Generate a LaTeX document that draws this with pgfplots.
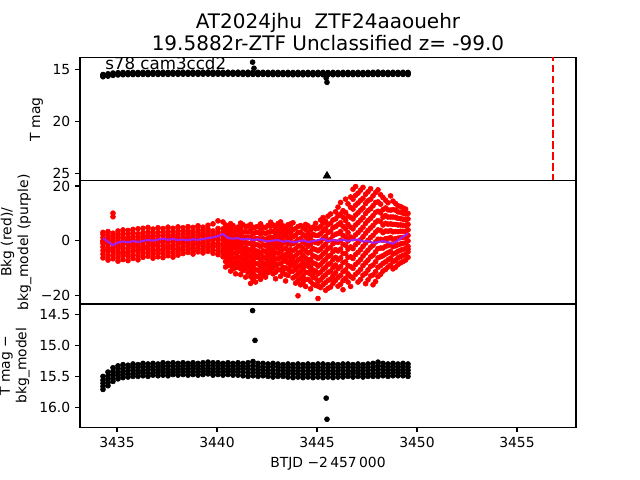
\documentclass[border=0pt]{standalone}
\usepackage{pgfplots}
\usepackage{pgfplotstable}
\pgfplotsset{compat=1.18}
\usepackage{fontspec}
\setmainfont{DejaVu Sans}

\pgfplotstableread{
t m1 m2 m3 m4 m5
3434.30 15.50 15.56 15.61 15.66 15.71
3434.55 15.43 15.49 15.54 15.60 15.65
3434.80 15.36 15.42 15.47 15.53 15.58
3435.05 15.33 15.38 15.44 15.49 15.54
3435.30 15.31 15.37 15.42 15.47 15.52
3435.55 15.32 15.36 15.41 15.46 15.51
3435.80 15.30 15.35 15.40 15.46 15.50
3436.05 15.31 15.36 15.41 15.45 15.50
3436.30 15.29 15.34 15.40 15.44 15.49
3436.55 15.30 15.35 15.39 15.45 15.50
3436.80 15.29 15.34 15.39 15.44 15.48
3437.05 15.30 15.35 15.40 15.44 15.49
3437.30 15.28 15.33 15.38 15.43 15.48
3437.55 15.29 15.34 15.39 15.44 15.49
3437.80 15.28 15.33 15.39 15.43 15.47
3438.05 15.29 15.34 15.38 15.43 15.48
3438.30 15.28 15.33 15.38 15.42 15.47
3438.55 15.29 15.33 15.38 15.43 15.48
3438.80 15.28 15.32 15.37 15.42 15.47
3439.05 15.29 15.34 15.38 15.43 15.48
3439.30 15.28 15.33 15.38 15.42 15.47
3439.55 15.27 15.32 15.37 15.42 15.46
3439.80 15.28 15.33 15.38 15.43 15.48
3440.05 15.28 15.32 15.37 15.42 15.47
3440.30 15.29 15.33 15.38 15.43 15.48
3440.55 15.28 15.33 15.38 15.42 15.47
3440.80 15.29 15.34 15.39 15.43 15.48
3441.05 15.28 15.33 15.38 15.43 15.48
3441.30 15.29 15.34 15.38 15.43 15.49
3441.55 15.28 15.33 15.38 15.44 15.50
3441.80 15.26 15.33 15.39 15.44 15.49
3442.05 15.29 15.34 15.39 15.44 15.50
3442.30 15.29 15.35 15.40 15.45 15.49
3442.55 15.30 15.35 15.40 15.45 15.50
3442.80 15.29 15.34 15.40 15.45 15.51
3443.05 15.30 15.35 15.40 15.46 15.50
3443.30 15.31 15.36 15.41 15.46 15.50
3443.55 15.30 15.35 15.40 15.45 15.51
3443.80 15.31 15.36 15.41 15.46 15.52
3444.05 15.30 15.36 15.41 15.46 15.51
3444.30 15.31 15.36 15.41 15.47 15.52
3444.55 15.30 15.35 15.41 15.46 15.51
3444.80 15.31 15.36 15.41 15.46 15.52
3445.05 15.30 15.35 15.40 15.46 15.51
3445.30 15.30 15.36 15.41 15.46 15.52
3445.55 15.31 15.36 15.41 15.46 15.51
3445.80 15.30 15.35 15.41 15.46 15.52
3446.05 15.31 15.36 15.41 15.46 15.51
3446.30 15.30 15.35 15.40 15.46 15.51
3446.55 15.30 15.35 15.41 15.46 15.50
3446.80 15.31 15.36 15.41 15.45 15.51
3447.05 15.30 15.35 15.40 15.45 15.50
3447.30 15.31 15.36 15.41 15.46 15.51
3447.55 15.30 15.35 15.40 15.46 15.50
3447.80 15.29 15.35 15.40 15.45 15.50
3448.05 15.27 15.33 15.39 15.45 15.50
3448.30 15.29 15.34 15.39 15.44 15.49
3448.55 15.30 15.35 15.40 15.45 15.50
3448.80 15.29 15.34 15.39 15.44 15.49
3449.05 15.30 15.35 15.40 15.44 15.49
3449.30 15.29 15.34 15.39 15.44 15.49
3449.55 15.30 15.35 15.40 15.45 15.50
}\magtab

\pgfplotstableread{
t b1 b2 b3 b4 b5 b6 b7 b8 b9 b10
3434.30 -6.2 -4.8 -3.5 -2.2 -1.0 0.1 1.2 2.4 3.1 -0.4
3434.55 -7.0 -5.5 -4.0 -2.6 -1.3 -0.2 0.9 2.0 3.4 -3.1
3434.80 -6.5 -5.1 -3.7 -2.4 -1.2 0.3 1.5 2.8 10.1 8.8
3435.05 -7.4 -5.9 -4.4 -3.0 -1.6 -0.3 1.0 2.2 3.6 -2.0
3435.30 -6.8 -5.3 -3.8 -2.5 -1.1 0.2 1.4 2.7 4.0 -4.6
3435.55 -7.2 -5.6 -4.2 -2.8 -1.4 -0.1 1.2 2.5 3.8 0.6
3435.80 -6.4 -5.0 -3.6 -2.2 -0.9 0.4 1.6 2.9 4.2 -1.7
3436.05 -6.9 -5.4 -4.0 -2.6 -1.2 0.1 1.3 2.6 4.4 -3.3
3436.30 -6.0 -4.6 -3.2 -1.9 -0.6 0.6 1.8 3.0 4.6 -2.5
3436.55 -5.6 -4.2 -2.9 -1.6 -0.3 0.9 2.1 3.3 4.9 1.5
3436.80 -6.3 -4.9 -3.5 -2.1 -0.8 0.5 1.7 2.9 4.3 -1.4
3437.05 -5.8 -4.4 -3.0 -1.7 -0.4 0.8 2.0 3.2 4.8 -3.6
3437.30 -6.1 -4.7 -3.3 -2.0 -0.7 0.6 1.9 3.1 4.5 0.0
3437.55 -5.4 -4.0 -2.7 -1.4 -0.1 1.1 2.3 3.5 5.0 -2.2
3437.80 -5.9 -4.5 -3.1 -1.8 -0.5 0.7 2.0 3.2 4.6 1.3
3438.05 -5.2 -3.9 -2.6 -1.3 0.0 1.2 2.4 3.6 5.1 -3.0
3438.30 -4.6 -3.4 -2.2 -1.0 0.2 1.3 2.4 3.5 4.8 -0.5
3438.55 -4.2 -3.0 -1.8 -0.6 0.6 1.7 2.8 3.9 5.2 1.0
3438.80 -4.8 -3.6 -2.4 -1.2 0.0 1.1 2.2 3.3 4.9 -2.9
3439.05 -4.0 -2.8 -1.6 -0.4 0.8 1.9 3.0 4.1 5.5 -1.0
3439.30 -4.4 -3.2 -2.0 -0.8 0.4 1.5 2.6 3.7 5.0 2.0
3439.55 -3.8 -2.6 -1.4 -0.2 1.0 2.1 3.2 4.3 5.7 -2.0
3439.80 -4.5 -3.3 -2.1 -0.9 0.3 1.4 2.5 3.6 6.2 0.8
3440.05 -5.0 -3.6 -2.2 -0.8 0.6 1.9 3.2 4.5 7.3 -1.5
3440.30 -5.8 -4.3 -2.8 -1.3 0.2 1.6 3.0 4.4 6.9 -3.7
3440.55 -9.0 -7.2 -5.5 -3.8 -2.1 -0.4 1.3 3.0 5.2 -6.3
3440.80 -10.2 -8.3 -6.4 -4.5 -2.6 -0.7 1.2 3.1 5.6 -1.8
3441.05 -9.5 -7.7 -5.9 -4.1 -2.3 -0.5 1.3 3.1 5.0 0.5
3441.30 -10.8 -8.8 -6.8 -4.8 -2.8 -0.8 1.2 3.2 5.9 -3.5
3441.55 -11.5 -9.4 -7.3 -5.2 -3.1 -1.0 1.1 3.2 5.4 -5.0
3441.80 -14.2 -11.8 -9.4 -7.0 -4.6 -2.2 0.2 2.6 4.8 -12.0
3442.05 -13.0 -10.7 -8.4 -6.1 -3.8 -1.5 0.8 3.1 5.3 -5.0
3442.30 -12.4 -10.2 -8.0 -5.8 -3.6 -1.4 0.8 3.0 5.0 -9.0
3442.55 -11.6 -9.5 -7.4 -5.3 -3.2 -1.1 1.0 3.1 5.6 -2.3
3442.80 -12.0 -9.8 -7.6 -5.4 -3.2 -1.0 1.2 3.4 5.8 -6.6
3443.05 -10.5 -8.5 -6.5 -4.5 -2.5 -0.5 1.5 3.5 6.3 -1.5
3443.30 -11.8 -9.6 -7.4 -5.2 -3.0 -0.8 1.4 3.6 5.5 -10.5
3443.55 -12.6 -10.3 -8.0 -5.7 -3.4 -1.1 1.2 3.5 5.9 -4.3
3443.80 -13.5 -11.0 -8.5 -6.0 -3.5 -1.0 1.5 4.0 6.6 -7.3
3444.05 -20.0 -14.5 -12.0 -9.5 -7.0 -4.5 -2.0 0.5 3.0 5.2
3444.30 -15.2 -12.7 -10.2 -7.7 -5.2 -2.7 -0.2 2.3 4.8 -13.5
3444.55 -14.0 -11.6 -9.2 -6.8 -4.4 -2.0 0.4 2.8 5.5 -7.9
3444.80 -15.8 -13.2 -10.6 -8.0 -5.4 -2.8 -0.2 2.4 5.0 -12.0
3445.05 -21.0 -14.8 -12.0 -9.2 -6.4 -3.6 -0.8 2.0 4.6 -16.5
3445.30 -16.0 -13.2 -10.4 -7.6 -4.8 -2.0 0.8 3.6 6.4 8.5
3445.55 -17.3 -14.4 -11.5 -8.6 -5.7 -2.8 0.1 3.0 5.9 9.0
3445.80 -15.5 -12.6 -9.7 -6.8 -3.9 -1.0 1.9 4.8 7.6 -13.8
3446.05 -16.5 -13.3 -10.1 -6.9 -3.7 -0.5 2.7 5.9 9.1 12.3
3446.30 -17.8 -14.5 -11.2 -7.9 -4.6 -1.3 2.0 5.3 8.6 11.0
3446.55 -15.0 -12.0 -9.0 -6.0 -3.0 0.0 3.0 6.0 9.0 13.5
3446.80 -13.6 -10.0 -6.4 -2.8 0.8 4.4 8.0 11.6 15.2 18.8
3447.05 -15.0 -11.4 -7.8 -4.2 -0.6 3.0 6.6 10.2 13.8 17.4
3447.30 -12.5 -9.0 -5.5 -2.0 1.5 5.0 8.5 12.0 15.5 19.5
3447.55 -14.2 -10.6 -7.0 -3.4 0.2 3.8 7.4 11.0 14.6 17.9
3447.80 -16.0 -12.4 -8.8 -5.2 -1.6 2.0 5.6 9.2 12.8 16.4
3448.05 -13.0 -9.6 -6.2 -2.8 0.6 4.0 7.4 10.8 14.2 18.6
3448.30 -11.0 -8.2 -5.4 -2.6 0.2 3.0 5.8 8.6 11.4 15.8
3448.55 -9.5 -6.9 -4.3 -1.7 0.9 3.5 6.1 8.7 11.3 13.9
3448.80 -10.2 -7.5 -4.8 -2.1 0.6 3.3 6.0 8.7 11.4 14.5
3449.05 -8.6 -6.2 -3.8 -1.4 1.0 3.4 5.8 8.2 10.6 12.8
3449.30 -7.5 -5.3 -3.1 -0.9 1.3 3.5 5.7 7.9 10.1 12.0
3449.55 -6.0 -4.0 -2.0 0.0 2.0 4.0 6.0 8.0 10.0 -3.0
}\bkgtab

\pgfplotstableread{
t b1 b2 b3 b4 b5 b6 b7 b8 b9 b10
3440.43 -7.5 -5.8 -4.1 -2.4 -0.7 1.0 2.6 4.2 5.8 -9.5
3440.68 -11.0 -9.0 -7.0 -5.0 -3.2 -1.4 0.4 2.2 4.3 6.3
3440.93 -9.8 -8.0 -6.2 -4.4 -2.6 -0.9 0.8 2.5 4.2 -12.0
3441.18 -12.3 -10.2 -8.1 -6.0 -3.9 -1.8 0.2 2.2 4.4 6.5
3441.43 -10.0 -8.2 -6.3 -4.4 -2.5 -0.6 1.4 3.4 5.2 -13.2
3441.68 -15.5 -13.0 -10.6 -8.2 -5.8 -3.4 -1.0 1.4 3.8 6.0
3441.93 -12.8 -10.5 -8.2 -5.9 -3.6 -1.3 0.9 3.0 5.0 -15.0
3442.18 -14.0 -11.6 -9.2 -6.8 -4.4 -2.0 0.3 2.5 4.6 6.2
3442.43 -13.2 -10.9 -8.6 -6.3 -4.0 -1.7 0.5 2.7 4.9 -11.0
3442.68 -10.6 -8.6 -6.6 -4.6 -2.6 -0.6 1.4 3.4 5.3 6.8
3442.93 -13.8 -11.4 -9.0 -6.6 -4.3 -2.0 0.3 2.6 4.8 -8.4
3443.18 -12.9 -10.6 -8.3 -6.0 -3.8 -1.6 0.6 2.8 5.0 6.9
3443.43 -14.6 -12.2 -9.8 -7.4 -5.0 -2.6 -0.2 2.2 4.6 -6.2
3443.68 -11.2 -9.2 -7.2 -5.2 -3.2 -1.2 0.8 2.8 4.8 6.2
3443.93 -15.4 -12.9 -10.4 -7.9 -5.4 -2.9 -0.4 2.1 4.5 -9.7
3444.18 -13.6 -11.2 -8.8 -6.4 -4.0 -1.6 0.8 3.2 5.6 -16.0
3444.43 -16.6 -14.0 -11.4 -8.8 -6.2 -3.6 -1.0 1.6 4.2 6.0
3444.68 -17.5 -14.8 -12.1 -9.4 -6.7 -4.0 -1.3 1.4 4.0 -10.8
3444.93 -16.2 -13.6 -11.0 -8.4 -5.8 -3.2 -0.6 2.0 4.4 6.4
3445.18 -17.0 -14.2 -11.4 -8.6 -5.8 -3.0 -0.2 2.6 5.2 7.6
3445.43 -18.0 -15.2 -12.4 -9.6 -6.8 -4.0 -1.2 1.6 4.6 7.2
3445.68 -16.8 -13.9 -11.0 -8.1 -5.2 -2.3 0.6 3.5 6.4 9.8
3445.93 -14.4 -11.6 -8.8 -6.0 -3.2 -0.4 2.4 5.2 8.0 10.6
3446.18 -15.8 -12.6 -9.4 -6.2 -3.0 0.2 3.4 6.6 9.8 14.0
3446.43 -13.6 -10.6 -7.6 -4.6 -1.6 1.4 4.4 7.4 10.4 15.2
3446.68 -16.6 -13.0 -9.4 -5.8 -2.2 1.4 5.0 8.6 12.2 16.0
3446.93 -12.2 -8.6 -5.0 -1.4 2.2 5.8 9.4 13.0 16.6 19.8
3447.18 -14.0 -10.4 -6.8 -3.2 0.4 4.0 7.6 11.2 14.8 18.5
3447.43 -15.6 -11.8 -8.0 -4.4 -0.8 2.8 6.4 10.0 13.6 17.0
3447.68 -12.8 -9.3 -5.8 -2.3 1.2 4.7 8.2 11.7 15.2 19.0
3447.93 -14.8 -11.2 -7.6 -4.0 -0.4 3.2 6.8 10.4 14.0 17.6
3448.18 -12.2 -9.0 -5.8 -2.6 0.6 3.8 7.0 10.2 13.4 16.8
3448.43 -10.4 -7.6 -4.8 -2.0 0.8 3.6 6.4 9.2 12.0 14.8
3448.68 -8.8 -6.3 -3.8 -1.3 1.2 3.7 6.2 8.7 11.2 16.4
3448.93 -9.6 -7.0 -4.4 -1.8 0.8 3.4 6.0 8.6 11.2 13.6
3449.18 -8.0 -5.7 -3.4 -1.1 1.2 3.5 5.8 8.1 10.4 12.5
3449.43 -7.0 -4.9 -2.8 -0.7 1.4 3.5 5.6 7.7 9.8 11.6
}\bkgtabb

\pgfplotstableread{
t v
3434.30 1.0
3434.55 -0.3
3434.80 -1.6
3435.05 -0.6
3435.30 -0.2
3435.55 -0.5
3435.80 -0.1
3436.05 -0.4
3436.30 0.0
3436.55 0.3
3436.80 0.1
3437.05 0.5
3437.30 0.8
3437.55 0.4
3437.80 0.7
3438.05 0.3
3438.30 0.5
3438.55 0.2
3438.80 0.6
3439.05 0.4
3439.30 0.7
3439.55 1.0
3439.80 1.3
3440.05 1.7
3440.30 2.5
3440.55 1.1
3440.80 0.8
3441.05 1.0
3441.30 0.5
3441.55 0.8
3441.80 0.3
3442.05 0.6
3442.30 0.2
3442.55 -0.2
3442.80 0.1
3443.05 0.3
3443.30 -0.3
3443.55 0.0
3443.80 -0.5
3444.05 -0.2
3444.30 0.2
3444.55 -0.4
3444.80 -0.1
3445.05 0.3
3445.30 0.8
3445.55 -0.1
3445.80 0.3
3446.05 0.1
3446.30 0.4
3446.55 0.0
3446.80 0.3
3447.05 0.5
3447.30 -0.2
3447.55 -0.1
3447.80 -0.7
3448.05 -0.4
3448.30 -0.1
3448.55 -0.5
3448.80 -1.0
3449.05 0.2
3449.30 1.5
3449.55 2.7
}\modeltab

\definecolor{bkgpurple}{RGB}{160,32,240}

\pgfplotsset{
  panel/.style={
    scale only axis, width=357.12pt, height=88.704pt, anchor=south west,
    xmin=3433.15, xmax=3457.95,
    axis line style={line width=0.8pt},
    tick align=outside, tick pos=left,
    major tick length=3.5pt,
    every tick/.style={black, line width=0.8pt},
    tick label style={font=\fontsize{10}{12}\selectfont},
    label style={font=\fontsize{10}{12}\selectfont},
    /pgf/number format/assume math mode=true,
    ylabel style={align=center},
    clip marker paths=true,
  },
  dot/.style={only marks, mark=*, mark size=1.8pt},
}

\begin{document}
\begin{tikzpicture}
\useasboundingbox (0,0) rectangle (460.8pt,345.6pt);

% Panel 1
\begin{axis}[panel, at={(57.6pt,215.424pt)},
  y dir=reverse, ymin=13.88, ymax=25.67,
  ytick={15,20,25}, yticklabels={15,20,25},
  xtick=\empty,
  ylabel={T mag},
  title={AT2024jhu~~ZTF24aaouehr\\19.5882r-ZTF Unclassified z= -99.0},
  title style={align=center, font=\fontsize{14.4}{15.8}\selectfont, yshift=-4.5pt},
]
\foreach \c in {m1,m2,m3,m4,m5}{
  \addplot[dot, black] table[x=t, y=\c] {\magtab};
}
\addplot[dot, black] coordinates {(3441.78,14.32) (3441.85,14.90) (3445.46,15.85) (3445.50,16.25)};
\addplot[only marks, mark=triangle*, mark size=3.2pt, black] coordinates {(3445.5,25.2)};
\addplot[red, line width=1.5pt, dash pattern=on 5.5pt off 2.4pt] coordinates {(3456.8,13.5) (3456.8,26)};
\node[anchor=base west, inner sep=0pt, font=\fontsize{12}{14}\selectfont] at (axis cs:3434.4,15.0) {s78 cam3ccd2};
\end{axis}

% Panel 2
\begin{axis}[panel, at={(57.6pt,126.72pt)},
  ymin=-23.0, ymax=21.9,
  ytick={-20,0,20}, yticklabels={−20,0,20},
  xtick=\empty,
  ylabel={Bkg (red)/\\bkg\_model (purple)},
]
\foreach \c in {b1,b2,b3,b4,b5,b6,b7,b8,b9,b10}{
  \addplot[dot, red] table[x=t, y=\c] {\bkgtab};
  \addplot[dot, red] table[x=t, y=\c] {\bkgtabb};
}
\addplot[color=bkgpurple, line width=1.5pt] table[x=t, y=v] {\modeltab};
\end{axis}

% Panel 3
\begin{axis}[panel, at={(57.6pt,38.016pt)},
  y dir=reverse, ymin=14.334, ymax=16.318,
  ytick={14.5,15.0,15.5,16.0}, yticklabels={14.5,15.0,15.5,16.0},
  xtick={3435,3440,3445,3450,3455}, xticklabels={3435,3440,3445,3450,3455},
  ylabel={T mag −\\bkg\_model},
  xlabel={BTJD −2\,457\,000},
]
\foreach \c in {m1,m2,m3,m4,m5}{
  \addplot[dot, black] table[x=t, y=\c] {\magtab};
}
\addplot[dot, black] coordinates {(3441.78,14.44) (3441.90,14.92) (3445.46,15.85) (3445.50,16.19)};
\end{axis}
\end{tikzpicture}
\end{document}
